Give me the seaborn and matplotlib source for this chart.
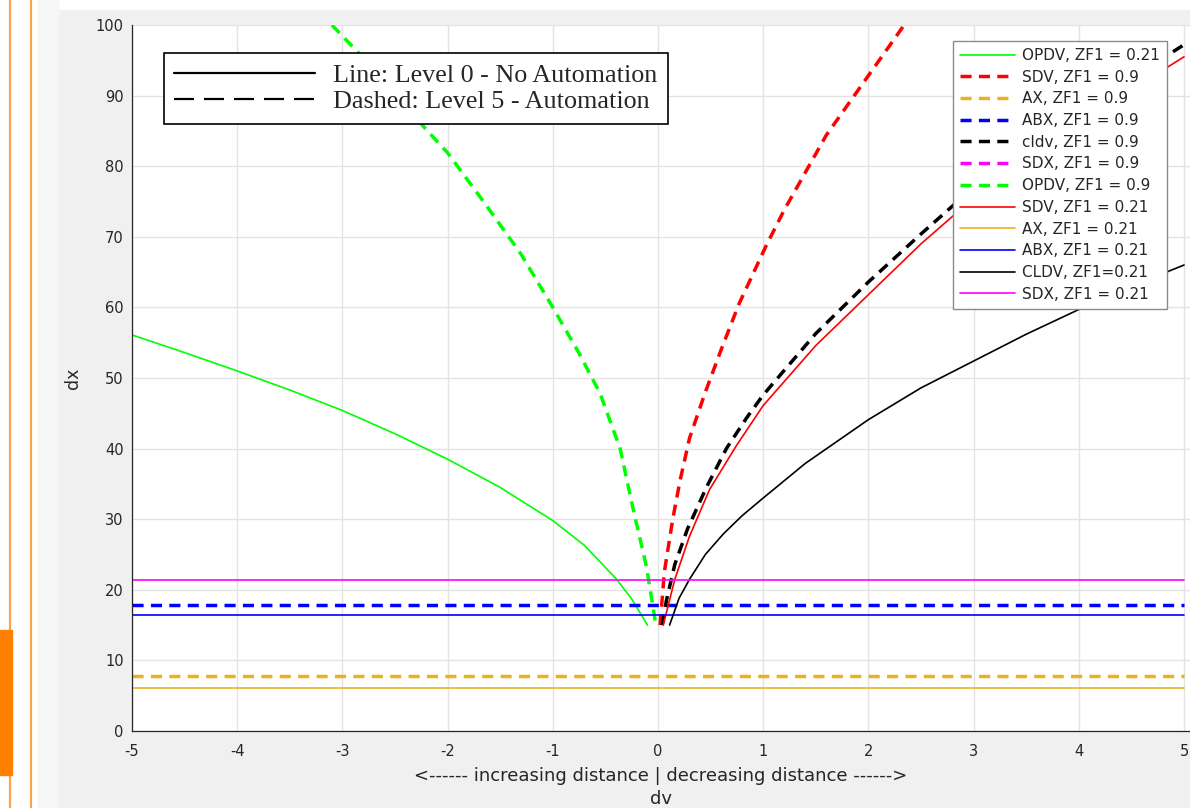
import matplotlib
matplotlib.use("Agg")
import matplotlib.pyplot as plt
from matplotlib.lines import Line2D
from matplotlib.patches import Rectangle
import pandas as pd
import seaborn as sns

# ---- data ----
dv_range = [-5, 5]

opdv_021_dv = [-5.0, -4.5, -4.0, -3.5, -3.0, -2.5, -2.0, -1.5, -1.0, -0.7, -0.4, -0.25, -0.1]
opdv_021_dx = [56.1, 53.6, 51.0, 48.3, 45.4, 42.1, 38.5, 34.5, 29.8, 26.3, 21.6, 18.7, 15.0]

opdv_09_dv = [-3.1, -2.83, -2.5, -2.21, -2.0, -1.63, -1.3, -1.0, -0.75, -0.55, -0.36, -0.24, -0.11, -0.02]
opdv_09_dx = [100.0, 95.8, 90.3, 85.3, 81.9, 74.4, 67.5, 60.0, 53.5, 47.8, 40.0, 31.7, 23.3, 15.0]

sdv_09_dv = [0.02, 0.06, 0.14, 0.21, 0.30, 0.45, 0.60, 0.77, 1.03, 1.20, 1.60, 1.97, 2.34]
sdv_09_dx = [15.0, 22.5, 30.0, 35.5, 41.5, 48.0, 54.0, 60.5, 68.8, 73.8, 84.4, 92.2, 100.0]

cldv_09_dv = [0.04, 0.08, 0.16, 0.28, 0.46, 0.65, 0.84, 1.0, 1.5, 2.0, 2.5, 3.0, 3.5, 4.0, 4.5, 5.0]
cldv_09_dx = [15.0, 18.5, 23.6, 28.6, 34.5, 40.0, 44.3, 47.6, 56.3, 63.6, 70.4, 77.0, 82.4, 87.6, 92.5, 97.2]

sdv_021_dv = [0.05, 0.16, 0.30, 0.49, 0.74, 1.0, 1.5, 2.0, 2.5, 3.0, 3.5, 4.0, 4.5, 5.0]
sdv_021_dx = [15.0, 21.5, 27.6, 34.2, 40.3, 46.1, 54.6, 61.8, 69.0, 75.5, 80.9, 86.0, 90.8, 95.5]

cldv_021_dv = [0.11, 0.2, 0.3, 0.45, 0.62, 0.8, 1.0, 1.4, 2.0, 2.5, 3.0, 3.5, 4.0, 4.5, 5.0]
cldv_021_dx = [15.0, 18.8, 21.5, 25.0, 27.9, 30.5, 33.0, 37.9, 44.1, 48.6, 52.4, 56.2, 59.7, 63.0, 66.0]

ax_09 = 7.8
ax_021 = 6.1
abx_09 = 17.9
abx_021 = 16.4
sdx_09 = 110.0   # not visible in the picture: lies above the plotted range
sdx_021 = 21.4

GREEN, RED, ORANGE, BLUE, BLACK, MAGENTA = "#00ff00", "#ff0000", "#edb120", "#0000ff", "#000000", "#ff00ff"
DASH = (0, (3.2, 2.1))

# label, x, y, colour, dashed?
series = [
    ("OPDV, ZF1 = 0.21", opdv_021_dv, opdv_021_dx, GREEN, False),
    ("SDV, ZF1 = 0.9", sdv_09_dv, sdv_09_dx, RED, True),
    ("AX, ZF1 = 0.9", dv_range, [ax_09] * 2, ORANGE, True),
    ("ABX, ZF1 = 0.9", dv_range, [abx_09] * 2, BLUE, True),
    ("cldv, ZF1 = 0.9", cldv_09_dv, cldv_09_dx, BLACK, True),
    ("SDX, ZF1 = 0.9", dv_range, [sdx_09] * 2, MAGENTA, True),
    ("OPDV, ZF1 = 0.9", opdv_09_dv, opdv_09_dx, GREEN, True),
    ("SDV, ZF1 = 0.21", sdv_021_dv, sdv_021_dx, RED, False),
    ("AX, ZF1 = 0.21", dv_range, [ax_021] * 2, ORANGE, False),
    ("ABX, ZF1 = 0.21", dv_range, [abx_021] * 2, BLUE, False),
    ("CLDV, ZF1=0.21", cldv_021_dv, cldv_021_dx, BLACK, False),
    ("SDX, ZF1 = 0.21", dv_range, [sdx_021] * 2, MAGENTA, False),
]

sns.set_style("white")
plt.rcParams["font.family"] = ["DejaVu Sans"]
plt.rcParams["axes.unicode_minus"] = False

fig = plt.figure(figsize=(11.9, 8.08), dpi=100)
W, H = 1190, 808

# slide-like surroundings, kept behind the axes
fig.patches.append(Rectangle((58 / W, 0), 1, 1 - 10 / H, transform=fig.transFigure,
                             color="#f0f0f0", zorder=-10))
fig.patches.append(Rectangle((38 / W, 0), 20 / W, 1, transform=fig.transFigure,
                             color="#f6f6f6", zorder=-10))
fig.patches.append(Rectangle((0, 1 - 775 / H), 12 / W, 145 / H, transform=fig.transFigure,
                             color="#ff7f00", zorder=-9))
for xl in (10, 31):
    fig.lines.append(Line2D([xl / W, xl / W], [0, 1], transform=fig.transFigure,
                            color="#f8a54c", lw=1.6, zorder=-9))

# plot area runs off the right edge of the screenshot
px_per_unit = (1184 - 132) / 10
ax = fig.add_axes([132 / W, 1 - 731 / H, (W - 132) / W, (731 - 25) / H])
ax.set_facecolor("white")

for label, xs, ys, color, dashed in series:
    df = pd.DataFrame({"dv": xs, "dx": ys})
    sns.lineplot(data=df, x="dv", y="dx", ax=ax, color=color,
                 lw=2.5 if dashed else 1.2,
                 linestyle=DASH if dashed else "-",
                 label=label, estimator=None, sort=False, legend=False)

ax.set_xlim(-5, 5 + (W - 1184) / px_per_unit)
ax.set_ylim(0, 100)
ax.set_xticks(range(-5, 6))
ax.set_yticks(range(0, 101, 10))
ax.grid(True, color="#e3e3e3", lw=1)
ax.set_axisbelow(True)
sns.despine(ax=ax)
for sp in ("left", "bottom"):
    ax.spines[sp].set_color("#262626")
    ax.spines[sp].set_linewidth(0.9)
ax.tick_params(direction="in", length=5, labelsize=10.5, colors="#262626")
ax.tick_params(axis="x", pad=9)
ax.tick_params(axis="y", pad=6)

ax.set_xlabel("<------ increasing distance | decreasing distance ------>\ndv",
              fontsize=13, linespacing=1.35, labelpad=6, color="#262626")
ax.set_ylabel("dx", fontsize=12.5, labelpad=9.5, color="#262626")

handles, labels = ax.get_legend_handles_labels()
leg1 = ax.legend(handles, labels, loc="upper right",
                 bbox_to_anchor=(1167 / W, 1 - 41 / H), bbox_transform=fig.transFigure,
                 fontsize=11, handlelength=3.65, handletextpad=0.45, labelspacing=0.44,
                 borderpad=0.45, borderaxespad=0, fancybox=False, edgecolor="#8a8a8a",
                 framealpha=1)
leg1.get_frame().set_linewidth(1.0)
ax.add_artist(leg1)

style_handles = [Line2D([], [], color="black", lw=1.6),
                 Line2D([], [], color="black", lw=1.6, linestyle=(0, (9, 4.5)))]
leg2 = ax.legend(style_handles, ["Line: Level 0 - No Automation", "Dashed: Level 5 - Automation"],
                 loc="upper left", bbox_to_anchor=(164 / W, 1 - 53 / H),
                 bbox_transform=fig.transFigure,
                 prop={"family": "Liberation Serif", "size": 18.8},
                 handlelength=5.4, handletextpad=0.69, labelspacing=0.12, borderpad=0.4,
                 borderaxespad=0, fancybox=False, edgecolor="black", framealpha=1)
leg2.get_frame().set_linewidth(1.2)

fig.savefig("out.png", dpi=100)
